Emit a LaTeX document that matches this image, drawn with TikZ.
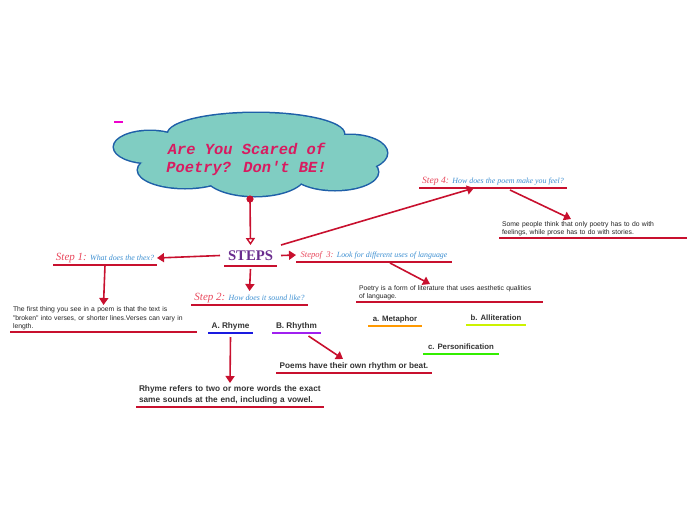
\documentclass[tikz,border=0pt]{standalone}
\usepackage{fontspec}
\setmainfont{Liberation Serif}
\newfontfamily\sansf{Liberation Sans}
\newfontfamily\monof{Liberation Mono}
\usetikzlibrary{arrows.meta}
\definecolor{cred}{HTML}{C8102E}
\definecolor{lred}{HTML}{E8485C}
\definecolor{qblue}{HTML}{3D8FD1}
\definecolor{cloudfill}{HTML}{80CDC2}
\definecolor{cloudline}{HTML}{1E5FA8}
\definecolor{titlec}{HTML}{D81B60}
\definecolor{stepsc}{HTML}{6A2C8E}
\definecolor{txt}{HTML}{222222}
\definecolor{btxt}{HTML}{333333}
\definecolor{ulblue}{HTML}{1A1AE0}
\definecolor{ulpurple}{HTML}{A020F0}
\definecolor{ulorange}{HTML}{FF9900}
\definecolor{ulyellow}{HTML}{CCF200}
\definecolor{ulgreen}{HTML}{33EE00}
\definecolor{dashc}{HTML}{EE00CC}
\newcommand{\slbl}[2]{{\color{lred}\fontsize{#1}{#1}\selectfont\itshape #2}}
\newcommand{\sq}[2]{{\color{qblue}\fontsize{#1}{#1}\selectfont\itshape #2}}
\begin{document}
\begin{tikzpicture}[x=1pt,y=-1pt,
  conn/.style={draw=cred, line width=1.6pt, -{Triangle[length=7pt,width=9pt]}},
  openconn/.style={draw=cred, line width=1.6pt, -{Triangle[open,length=7pt,width=9pt,line width=1.4pt]}},
  ul/.style={draw=cred, line width=1.8pt},
  box/.style={inner sep=0pt, outer sep=0pt, anchor=south},
  para/.style={box, align=left, text=txt, font=\sansf\fontsize{6.8}{8.3}\selectfont},
  bpara/.style={box, align=left, text=btxt, font=\sansf\bfseries\fontsize{8.3}{11}\selectfont},
  lobe/.style={draw=cloudline, line width=3pt, fill=cloudfill}]
\useasboundingbox (0,0) rectangle (696,520);

% magenta dash
\draw[dashc, line width=1.6pt] (114,122) -- (123,122);

% cloud
\foreach \cx/\cy/\rx/\ry in {150/147/36/16, 256/134/88/21, 350/153/37/18, 335/172/43/18, 255/175/50/21, 185/170/47/18}
  \draw[lobe] (\cx,\cy) ellipse [x radius=\rx pt, y radius=\ry pt];
\foreach \cx/\cy/\rx/\ry in {150/147/36/16, 256/134/88/21, 350/153/37/18, 335/172/43/18, 255/175/50/21, 185/170/47/18, 250/152/100/28}
  \fill[cloudfill] (\cx,\cy) ellipse [x radius=\rx pt, y radius=\ry pt];
\node[text=titlec, align=center, font=\monof\bfseries\itshape\fontsize{15.4}{18}\selectfont] (title) at (246.5,159.5) {Are You Scared of\\Poetry? Don't BE!};

% dot
\fill[cred] (250,199) circle [radius=3.6pt];
\coordinate (dot) at (250,199);

% STEPS
\node[box, minimum width=53pt, minimum height=21pt, text=stepsc, font=\bfseries\fontsize{14.7}{16}\selectfont] (steps) at (250.5,266) {STEPS};
\draw[ul] (steps.south west) -- (steps.south east);
\draw[openconn] (dot) -- (steps.north);

% Step 1
\node[box, minimum width=104pt, minimum height=14pt] (step1) at (105,265) {\slbl{11}{Step 1:} \sq{7.9}{What does the thex?}};
\draw[ul] (step1.south west) -- (step1.south east);
\node[para, minimum width=187pt, minimum height=27pt, text width=181pt] (para1) at (103.5,332) {The first thing you see in a poem is that the text is\\"broken" into verses, or shorter lines.Verses can vary in\\length.};
\draw[ul] (para1.south west) -- (para1.south east);
\draw[conn] ([xshift=-4pt]steps.west) -- (step1.east);
\draw[conn] (step1.south) -- (para1.north);

% Step 2
\node[box, minimum width=117pt, minimum height=14pt] (step2) at (249.5,305) {\slbl{11}{Step 2:} \sq{7.9}{How does it sound like?}};
\draw[ul] (step2.south west) -- (step2.south east);
\draw[conn] ([yshift=-3pt]steps.south) -- (step2.north);
\node[box, minimum width=45pt, minimum height=14pt, text=btxt, font=\sansf\bfseries\fontsize{8.2}{9}\selectfont] (rhymeA) at (230.5,333) {A. Rhyme};
\draw[ulblue, line width=1.8pt] (rhymeA.south west) -- (rhymeA.south east);
\node[box, minimum width=49pt, minimum height=14pt, text=btxt, font=\sansf\bfseries\fontsize{8.2}{9}\selectfont] (rhythmB) at (296.5,333) {B. Rhythm};
\draw[ulpurple, line width=1.8pt] (rhythmB.south west) -- (rhythmB.south east);
\node[bpara, minimum width=188pt, minimum height=24pt, text width=182pt] (rhymeT) at (230,407) {Rhyme refers to two or more words the exact\\same sounds at the end, including a vowel.};
\draw[ul] (rhymeT.south west) -- (rhymeT.south east);
\draw[conn] ([yshift=-4pt]rhymeA.south) -- (rhymeT.north);
\node[box, minimum width=156pt, minimum height=14pt, text=btxt, font=\sansf\bfseries\fontsize{8.2}{9}\selectfont] (beat) at (354,373) {Poems have their own rhythm or beat.};
\draw[ul] (beat.south west) -- (beat.south east);
\draw[conn] ([xshift=12pt,yshift=-3pt]rhythmB.south) -- ([xshift=-11pt]beat.north);

% Step 3
\node[box, minimum width=156pt, minimum height=14pt] (step3) at (374,262) {\slbl{8.6}{Stepof\ \ 3:} \sq{7.9}{Look for different uses of language}};
\draw[ul] (step3.south west) -- (step3.south east);
\draw[conn] ([xshift=4pt]steps.east) -- (step3.west);
\node[para, minimum width=187pt, minimum height=18pt, text width=181pt] (poetry) at (449.5,302) {Poetry is a form of literature that uses aesthetic qualities\\of language.};
\draw[ul] (poetry.south west) -- (poetry.south east);
\draw[conn] ([xshift=16pt,yshift=-1pt]step3.south) -- ([xshift=-19.5pt]poetry.north);
\node[box, minimum width=54pt, minimum height=14pt, text=btxt, font=\sansf\bfseries\fontsize{7.8}{9}\selectfont] (meta) at (395,326) {a. Metaphor};
\draw[ulorange, line width=1.8pt] (meta.south west) -- (meta.south east);
\node[box, minimum width=60pt, minimum height=14pt, text=btxt, font=\sansf\bfseries\fontsize{7.8}{9}\selectfont] (allit) at (496,325) {b. Alliteration};
\draw[ulyellow, line width=1.8pt] (allit.south west) -- (allit.south east);
\node[box, minimum width=76pt, minimum height=14pt, text=btxt, font=\sansf\bfseries\fontsize{7.8}{9}\selectfont] (pers) at (461,354) {c. Personification};
\draw[ulgreen, line width=1.8pt] (pers.south west) -- (pers.south east);

% Step 4
\node[box, minimum width=148pt, minimum height=14pt] (step4) at (493,188) {\slbl{9.6}{Step 4:} \sq{7.9}{How does the poem make you feel?}};
\draw[ul] (step4.south west) -- (step4.south east);
\draw[conn] ([xshift=4pt]steps.north east) -- ([xshift=-19pt]step4.south);
\node[para, minimum width=188pt, minimum height=19pt, text width=182pt] (feel) at (593,238) {Some people think that only poetry has to do with\\feelings, while prose has to do with stories.};
\draw[ul] (feel.south west) -- (feel.south east);
\draw[conn] ([xshift=17pt,yshift=-2pt]step4.south) -- ([xshift=-22pt]feel.north);
\end{tikzpicture}
\end{document}
